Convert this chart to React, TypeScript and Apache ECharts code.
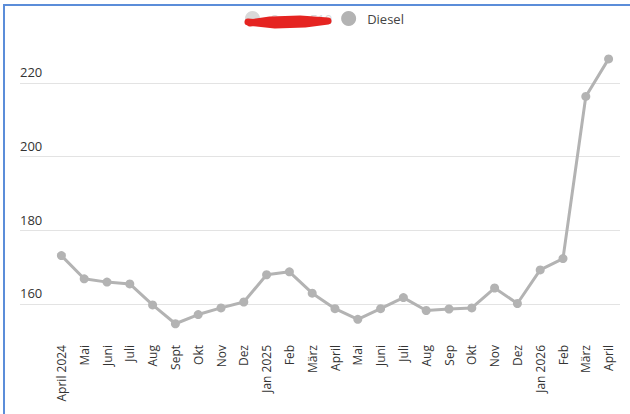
import React, { useEffect, useRef } from "react";
import * as echarts from "echarts";

const months = [
  "April 2024", "Mai", "Juni", "Juli", "Aug", "Sept", "Okt", "Nov", "Dez",
  "Jan 2025", "Feb", "März", "April", "Mai", "Juni", "Juli", "Aug", "Sep", "Okt", "Nov", "Dez",
  "Jan 2026", "Feb", "März", "April",
];
const diesel = [
  173.1, 166.8, 165.9, 165.4, 159.7, 154.6, 157.1, 158.9, 160.5,
  167.9, 168.7, 162.9, 158.7, 155.8, 158.7, 161.7, 158.2, 158.6, 158.9, 164.3, 160.1,
  169.2, 172.3, 216.3, 226.5,
];
const superE10: number[] = [];
const yTicks = [160, 180, 200, 220];
const yMin = 151;
const yMax = 230;

export default function App() {
  const ref = useRef<HTMLDivElement>(null);
  useEffect(() => {
    if (!ref.current) return;
    const chart = echarts.init(ref.current, null, { renderer: "svg" });
    const font = "'Open Sans', 'Noto Sans', sans-serif";
    chart.setOption({
      animation: false,
      textStyle: { fontFamily: font },
      legend: {
        top: 6,
        left: 240,
        itemWidth: 15,
        itemHeight: 15,
        itemGap: 9,
        icon: "circle",
        inactiveColor: "#d9d9d9",
        textStyle: { fontSize: 13, color: "#444", fontFamily: font, padding: [0, 0, 0, 6] },
        data: ["Super E10", "Diesel"],
        selected: { "Super E10": false, Diesel: true },
      },
      grid: [
        { left: 20, right: 10, top: 46, bottom: 77 },
        { left: 50, right: 10, top: 46, bottom: 77 },
      ],
      xAxis: [
        { type: "value", gridIndex: 0, show: false, min: 0, max: 1 },
        {
          type: "category",
          gridIndex: 1,
          data: months,
          boundaryGap: true,
          axisLine: { show: false },
          axisTick: { show: false },
          axisLabel: {
            rotate: 90,
            interval: 0,
            margin: 8,
            fontSize: 12,
            color: "#333",
            fontFamily: font,
          },
        },
      ],
      yAxis: [
        {
          type: "value",
          gridIndex: 0,
          min: yMin,
          max: yMax,
          axisLine: { show: false },
          axisTick: { show: false, customValues: yTicks },
          splitLine: { show: true, lineStyle: { color: "#e3e3e3", width: 1 } },
          axisLabel: {
            inside: true,
            margin: 0,
            customValues: yTicks,
            verticalAlign: "bottom",
            padding: [0, 0, 4, 0],
            fontSize: 13,
            color: "#333",
            fontFamily: font,
          },
        },
        {
          type: "value",
          gridIndex: 1,
          min: yMin,
          max: yMax,
          show: false,
          splitLine: { show: false },
        },
      ],
      series: [
        {
          name: "Super E10",
          type: "line",
          xAxisIndex: 1,
          yAxisIndex: 1,
          data: superE10,
          itemStyle: { color: "#d9d9d9" },
        },
        {
          name: "Diesel",
          type: "line",
          xAxisIndex: 1,
          yAxisIndex: 1,
          data: diesel,
          symbol: "circle",
          symbolSize: 9,
          lineStyle: { color: "#b3b3b3", width: 3 },
          itemStyle: { color: "#b3b3b3" },
        },
      ],
      graphic: [
        {
          type: "polyline",
          z: 100,
          shape: {
            points: [
              [248, 22],
              [275, 25],
              [305, 24],
              [328, 21],
              [300, 19],
              [270, 20],
              [250, 23],
            ],
          },
          style: { stroke: "#e52421", lineWidth: 7, fill: null, lineCap: "round", lineJoin: "round" },
        },
      ],
    });
    return () => chart.dispose();
  }, []);
  return (
    <div
      style={{
        position: "absolute",
        left: 0,
        top: 0,
        width: 630,
        height: 414,
        background: "#fff",
      }}
    >
      <div
        style={{
          position: "absolute",
          left: 3,
          top: 4,
          width: 627,
          height: 410,
          borderTop: "2px solid #5b8dd9",
          borderLeft: "2px solid #5b8dd9",
          boxSizing: "border-box",
        }}
      />
      <div ref={ref} style={{ position: "absolute", left: 0, top: 0, width: 630, height: 414 }} />
    </div>
  );
}
